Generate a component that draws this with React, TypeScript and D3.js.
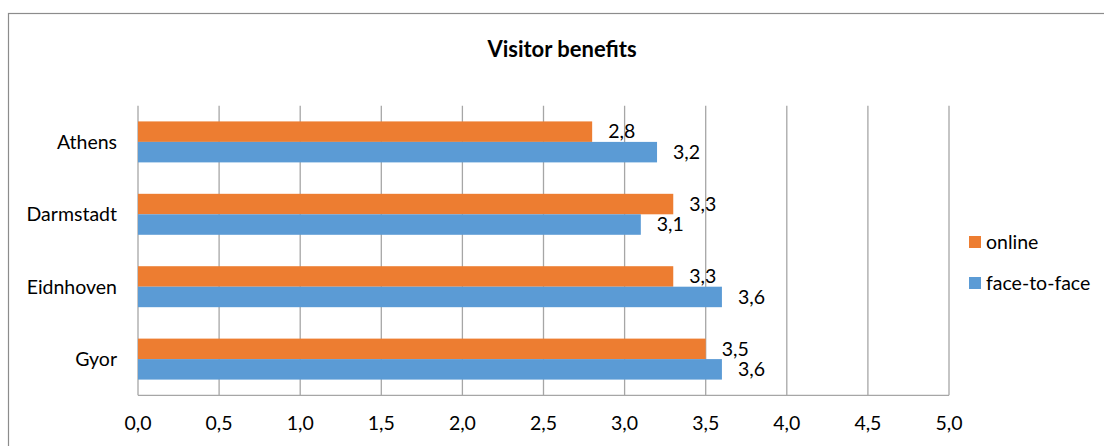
import React, { useRef, useEffect } from 'react';
import * as d3 from 'd3';

const cities = ['Athens', 'Darmstadt', 'Eidnhoven', 'Gyor'];
const online = [2.8, 3.3, 3.3, 3.5];
const faceToFace = [3.2, 3.1, 3.6, 3.6];
const seriesNames = ['online', 'face-to-face'];
const seriesColors = ['#ed7d31', '#5b9bd5'];
const xTicks = [0, 0.5, 1, 1.5, 2, 2.5, 3, 3.5, 4, 4.5, 5];

const FONT = 'Lato, "Open Sans", sans-serif';

const App: React.FC = () => {
    const ref = useRef<SVGSVGElement>(null);

    useEffect(() => {
        if (!ref.current) return;
        const svg = d3.select(ref.current);
        svg.selectAll("*").remove();

        const width = 1104;
        const height = 446;
        const plot = { left: 138, right: 949, top: 105.7, bottom: 395.3 };

        // chart frame (runs off the right and bottom edges)
        svg.append("rect")
            .attr("x", 8.5).attr("y", 13.5)
            .attr("width", width + 20).attr("height", height + 20)
            .attr("fill", "white")
            .attr("stroke", "#8c8c8c").attr("stroke-width", 1.2);

        svg.append("text")
            .attr("x", 562).attr("y", 57)
            .attr("text-anchor", "middle")
            .style("font-family", FONT).style("font-size", "22px").style("font-weight", "bold")
            .attr("fill", "#000")
            .text("Visitor benefits");

        const xScale = d3.scaleLinear().domain([0, 5]).range([plot.left, plot.right]);
        const yScale = d3.scaleBand<string>()
            .domain(cities)
            .range([plot.top, plot.bottom])
            .paddingInner(0.434).paddingOuter(0.217);
        const inner = d3.scaleBand<string>()
            .domain(seriesNames)
            .range([0, yScale.bandwidth()]);

        // vertical gridlines
        svg.append("g")
            .selectAll("line")
            .data(xTicks)
            .enter()
            .append("line")
            .attr("x1", d => xScale(d)).attr("x2", d => xScale(d))
            .attr("y1", plot.top).attr("y2", plot.bottom)
            .attr("stroke", "#a6a6a6").attr("stroke-width", 1.3);

        // x axis line
        svg.append("line")
            .attr("x1", plot.left).attr("x2", plot.right)
            .attr("y1", plot.bottom).attr("y2", plot.bottom)
            .attr("stroke", "#a6a6a6").attr("stroke-width", 1.3);

        // x tick labels
        svg.append("g")
            .selectAll("text")
            .data(xTicks)
            .enter()
            .append("text")
            .attr("x", d => xScale(d))
            .attr("y", 430)
            .attr("text-anchor", "middle")
            .style("font-family", FONT).style("font-size", "19.5px")
            .attr("fill", "#000")
            .text(d => d.toFixed(1).replace('.', ','));

        // category labels
        svg.append("g")
            .selectAll("text")
            .data(cities)
            .enter()
            .append("text")
            .attr("x", 117)
            .attr("y", d => (yScale(d) as number) + yScale.bandwidth() / 2)
            .attr("dy", "0.35em")
            .attr("text-anchor", "end")
            .style("font-family", FONT).style("font-size", "19.5px")
            .attr("fill", "#000")
            .text(d => d);

        const series = [online, faceToFace];
        series.forEach((values, si) => {
            const g = svg.append("g");
            const rows = cities.map((c, i) => ({ city: c, value: values[i] }));
            g.selectAll("rect")
                .data(rows)
                .enter()
                .append("rect")
                .attr("x", xScale(0))
                .attr("y", d => (yScale(d.city) as number) + (inner(seriesNames[si]) as number))
                .attr("width", d => xScale(d.value) - xScale(0))
                .attr("height", inner.bandwidth())
                .attr("fill", seriesColors[si]);

            g.selectAll("text")
                .data(rows)
                .enter()
                .append("text")
                .attr("x", d => xScale(d.value) + 16)
                .attr("y", d => (yScale(d.city) as number) + (inner(seriesNames[si]) as number) + inner.bandwidth() / 2)
                .attr("dy", "0.35em")
                .style("font-family", FONT).style("font-size", "19.5px")
                .attr("fill", "#000")
                .text(d => d.value.toFixed(1).replace('.', ','));
        });

        // legend
        const legend = svg.append("g");
        seriesNames.forEach((name, i) => {
            const y = 242 + i * 41;
            legend.append("rect")
                .attr("x", 969).attr("y", y - 6)
                .attr("width", 12).attr("height", 12)
                .attr("fill", seriesColors[i]);
            legend.append("text")
                .attr("x", 986).attr("y", y)
                .attr("dy", "0.35em")
                .style("font-family", FONT).style("font-size", "19.5px")
                .attr("fill", "#000")
                .text(name);
        });
    }, []);

    return (
        <svg ref={ref} width={1104} height={446}
            style={{ position: 'absolute', left: 0, top: 0, background: 'white' }} />
    );
};

export default App;
